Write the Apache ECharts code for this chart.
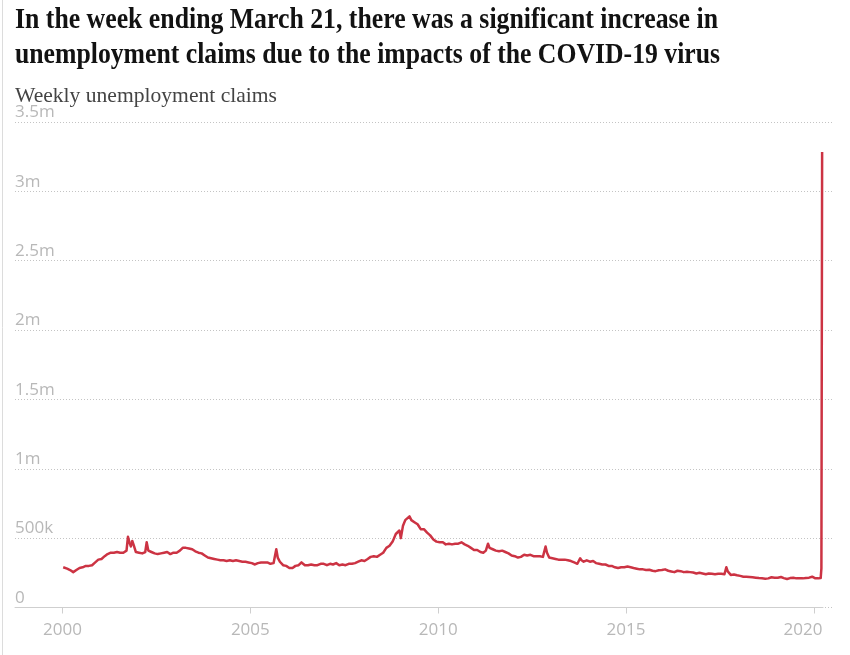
<!DOCTYPE html>
<html><head><meta charset="utf-8">
<script src="https://cdn.jsdelivr.net/npm/echarts@6/dist/echarts.min.js"></script>
<style>html,body{margin:0;padding:0;background:#fff}#c{width:850px;height:655px}</style>
</head><body><div id="c"></div><script>
const titleLines = [
  'In the week ending March 21, there was a significant increase in',
  'unemployment claims due to the impacts of the COVID-19 virus'
];
const subtitle = 'Weekly unemployment claims';
const yTicks = [0, 500, 1000, 1500, 2000, 2500, 3000, 3500];
const yTickLabels = ['0', '500k', '1m', '1.5m', '2m', '2.5m', '3m', '3.5m'];
const xTicks = [2000, 2005, 2010, 2015, 2020];

// claims in thousands
const dates = [
'2000-01-08','2000-02-15','2000-03-15','2000-04-15','2000-05-15','2000-06-15','2000-07-15','2000-08-15','2000-09-15','2000-10-15','2000-11-15','2000-12-15',
'2001-01-15','2001-02-15','2001-03-15','2001-04-15','2001-05-15','2001-06-15','2001-07-15','2001-08-15','2001-09-15','2001-09-29','2001-10-13','2001-10-27','2001-11-10','2001-11-24','2001-12-15','2001-12-29',
'2002-01-15','2002-02-15','2002-03-16','2002-03-30','2002-04-15','2002-05-15','2002-06-15','2002-07-15','2002-08-15','2002-09-15','2002-10-15','2002-11-15','2002-12-15',
'2003-01-15','2003-02-15','2003-03-15','2003-04-15','2003-05-15','2003-06-15','2003-07-15','2003-08-15','2003-09-15','2003-10-15','2003-11-15','2003-12-15',
'2004-01-15','2004-02-15','2004-03-15','2004-04-15','2004-05-15','2004-06-15','2004-07-15','2004-08-15','2004-09-15','2004-10-15','2004-11-15','2004-12-15',
'2005-01-15','2005-02-15','2005-03-15','2005-04-15','2005-05-15','2005-06-15','2005-07-15','2005-08-15','2005-09-10','2005-09-24','2005-10-15','2005-11-15','2005-12-15',
'2006-01-15','2006-02-15','2006-03-15','2006-04-15','2006-05-13','2006-06-15','2006-07-15','2006-08-15','2006-09-15','2006-10-15','2006-11-15','2006-12-15',
'2007-01-15','2007-02-15','2007-03-15','2007-04-15','2007-05-15','2007-06-15','2007-07-15','2007-08-15','2007-09-15','2007-10-15','2007-11-15','2007-12-15',
'2008-01-15','2008-02-15','2008-03-15','2008-04-15','2008-05-15','2008-06-15','2008-07-15','2008-08-15','2008-09-15','2008-10-15','2008-11-15','2008-12-20',
'2009-01-03','2009-01-24','2009-02-15','2009-03-28','2009-04-15','2009-05-15','2009-06-15','2009-07-15','2009-08-15','2009-09-15','2009-10-15','2009-11-15','2009-12-15',
'2010-01-15','2010-02-15','2010-03-15','2010-04-15','2010-05-15','2010-06-15','2010-07-15','2010-08-15','2010-09-15','2010-10-15','2010-11-15','2010-12-15',
'2011-01-15','2011-02-15','2011-03-15','2011-04-09','2011-04-30','2011-05-15','2011-06-15','2011-07-15','2011-08-15','2011-09-15','2011-10-15','2011-11-15','2011-12-15',
'2012-01-15','2012-02-15','2012-03-15','2012-04-15','2012-05-15','2012-06-15','2012-07-15','2012-08-15','2012-09-15','2012-10-15','2012-11-10','2012-11-24','2012-12-15',
'2013-01-15','2013-02-15','2013-03-15','2013-04-15','2013-05-15','2013-06-15','2013-07-15','2013-08-15','2013-09-15','2013-10-12','2013-10-26','2013-11-15','2013-12-15',
'2014-01-15','2014-02-15','2014-03-15','2014-04-15','2014-05-15','2014-06-15','2014-07-15','2014-08-15','2014-09-15','2014-10-15','2014-11-15','2014-12-15',
'2015-01-15','2015-02-15','2015-03-15','2015-04-15','2015-05-15','2015-06-15','2015-07-15','2015-08-15','2015-09-15','2015-10-15','2015-11-15','2015-12-15',
'2016-01-15','2016-02-15','2016-03-15','2016-04-15','2016-05-15','2016-06-15','2016-07-15','2016-08-15','2016-09-15','2016-10-15','2016-11-15','2016-12-15',
'2017-01-15','2017-02-15','2017-03-15','2017-04-15','2017-05-15','2017-06-15','2017-07-15','2017-08-15','2017-09-02','2017-09-16','2017-10-15','2017-11-15','2017-12-15',
'2018-01-15','2018-02-15','2018-03-15','2018-04-15','2018-05-15','2018-06-15','2018-07-15','2018-08-15','2018-09-15','2018-10-15','2018-11-15','2018-12-15',
'2019-01-15','2019-02-15','2019-03-15','2019-04-15','2019-05-15','2019-06-15','2019-07-15','2019-08-15','2019-09-15','2019-10-15','2019-11-15','2019-12-15',
'2020-01-15','2020-02-15','2020-03-07','2020-03-14','2020-03-21'
];
const claims = [
290,280,270,255,270,285,290,300,300,305,325,345,
350,370,385,395,395,400,395,395,410,510,470,440,480,450,400,390,
395,390,400,470,410,400,390,385,390,395,400,385,395,
395,410,430,430,425,420,405,395,390,375,360,355,
350,345,340,340,335,340,335,340,335,330,330,325,
320,310,320,325,325,325,315,320,420,360,330,305,300,
285,285,300,305,325,305,305,310,305,305,315,315,
305,315,310,320,305,310,305,315,315,320,330,340,
335,350,365,370,365,380,395,430,445,475,530,555,
500,590,630,657,630,615,600,565,565,540,520,490,475,
470,470,455,460,455,460,460,470,455,445,430,415,
415,400,395,410,460,430,420,410,405,410,400,390,375,
370,360,365,380,375,380,370,370,370,365,440,395,360,
355,350,345,345,345,340,335,325,315,355,340,330,340,
330,335,320,315,310,310,300,300,290,285,290,290,
295,290,285,280,275,275,270,272,265,262,268,270,
275,265,260,255,265,262,255,258,255,252,245,250,
245,240,245,243,240,243,243,240,290,260,235,238,232,
228,222,222,220,218,215,212,210,208,210,218,215,
215,220,212,205,212,215,210,210,210,213,215,222,
210,210,212,282,3283
];

function decYear(s) {
  const p = s.split('-').map(Number);
  const t = Date.UTC(p[0], p[1] - 1, p[2]);
  const t0 = Date.UTC(p[0], 0, 1), t1 = Date.UTC(p[0] + 1, 0, 1);
  return p[0] + (t - t0) / (t1 - t0);
}
const seriesData = dates.map((d, i) => [decYear(d), claims[i]]);

const mctx = document.createElement('canvas').getContext('2d');
function fitScale(text, font, target) { mctx.font = font; return target / mctx.measureText(text).width; }

const titleFont = 'bold 29px "Liberation Serif"';
const subFont = '21px "Liberation Serif"';
const axisFont = '"Open Sans"';
const labelColor = '#b8b8b8';

const chart = echarts.init(document.getElementById('c'), null, { renderer: 'canvas' });
chart.setOption({
  animation: false,
  backgroundColor: '#fff',
  graphic: [
    { type: 'line', shape: { x1: 2.5, y1: 0, x2: 2.5, y2: 655 }, style: { stroke: '#dcdcdc', lineWidth: 1 } },
    { type: 'text', x: 15, y: 21, scaleX: fitScale(titleLines[0], titleFont, 703),
      style: { x: 0, y: 0, text: titleLines[0], font: titleFont, fill: '#121212', verticalAlign: 'middle', align: 'left' } },
    { type: 'text', x: 15, y: 56, scaleX: fitScale(titleLines[1], titleFont, 705),
      style: { x: 0, y: 0, text: titleLines[1], font: titleFont, fill: '#121212', verticalAlign: 'middle', align: 'left' } },
    { type: 'text', x: 15, y: 96, scaleX: fitScale(subtitle, subFont, 262),
      style: { x: 0, y: 0, text: subtitle, font: subFont, fill: '#444', verticalAlign: 'middle', align: 'left' } }
  ],
  grid: [
    { left: 15, right: 16, top: 122, bottom: 47.5 },
    { left: 15, right: 27, top: 122, bottom: 47.5 }
  ],
  xAxis: [
    { gridIndex: 0, type: 'value', min: 1998.736, max: 2020.242, show: false },
    { gridIndex: 1, type: 'value', min: 1998.736, max: 2020.242,
      axisLine: { show: true, lineStyle: { color: '#cfcfcf', width: 1 } },
      axisTick: { show: true, length: 6, lineStyle: { color: '#cfcfcf' }, customValues: xTicks },
      splitLine: { show: false },
      axisLabel: {
        customValues: xTicks, margin: 14, color: labelColor, fontFamily: axisFont, fontSize: 17,
        formatter: v => (v === 2020 ? '{e|2020}' : String(v)),
        rich: { e: { padding: [0, 22, 0, 0], color: labelColor, fontFamily: axisFont, fontSize: 17 } }
      }
    }
  ],
  yAxis: [
    { gridIndex: 0, type: 'value', min: 0, max: 3500, interval: 500,
      axisLine: { show: false }, axisTick: { show: false },
      splitLine: { show: true, lineStyle: { color: '#c4c4c4', type: [1, 2], width: 1 } },
      axisLabel: {
        inside: true, margin: 0, verticalAlign: 'bottom', padding: [0, 0, 1, 0],
        color: labelColor, fontFamily: axisFont, fontSize: 17,
        formatter: v => yTickLabels[yTicks.indexOf(v)]
      }
    },
    { gridIndex: 1, type: 'value', min: 0, max: 3500, interval: 500, show: false, splitLine: { show: false } }
  ],
  series: [{
    type: 'line', xAxisIndex: 1, yAxisIndex: 1, data: seriesData,
    showSymbol: false, silent: true,
    lineStyle: { color: '#cc3343', width: 2.5, join: 'round' }
  }]
});
</script></body></html>
